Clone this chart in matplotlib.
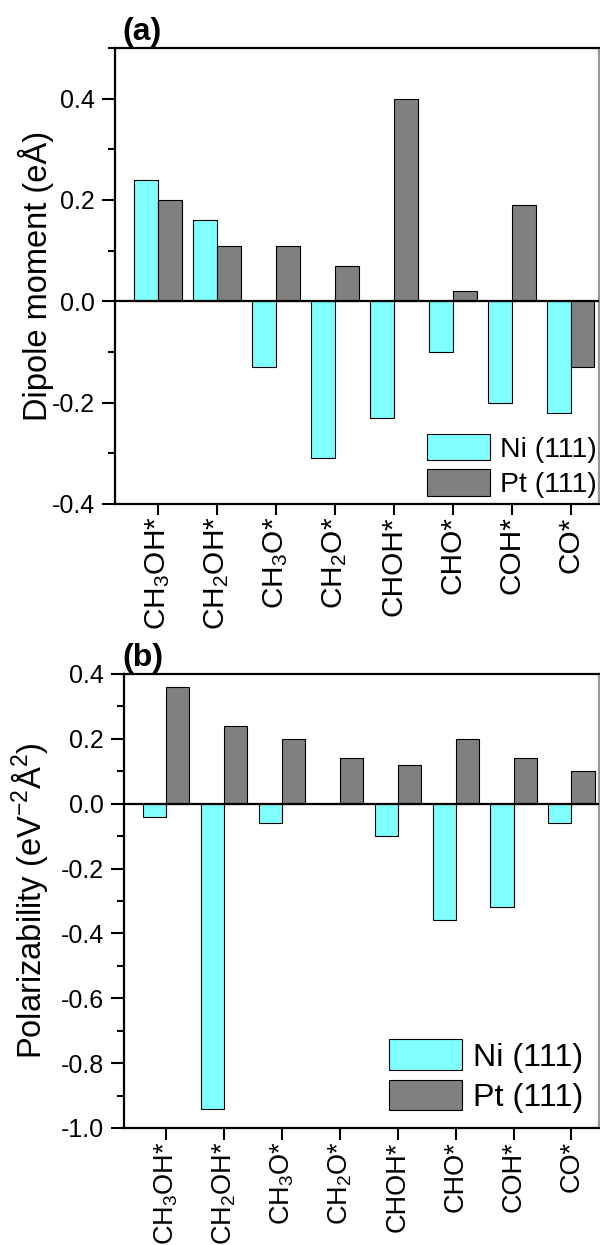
import matplotlib
matplotlib.use("Agg")
import matplotlib.pyplot as plt
import numpy as np
from matplotlib.ticker import MultipleLocator, FormatStrFormatter

plt.rcParams['font.family'] = ['Liberation Sans', 'DejaVu Sans']
plt.rcParams['mathtext.fontset'] = 'custom'
plt.rcParams['mathtext.rm'] = 'Liberation Sans'
plt.rcParams['mathtext.it'] = 'Liberation Sans:italic'
plt.rcParams['mathtext.bf'] = 'Liberation Sans:bold'
plt.rcParams['axes.unicode_minus'] = False

categories = [r'CH$_3$OH*', r'CH$_2$OH*', r'CH$_3$O*', r'CH$_2$O*',
              'CHOH*', 'CHO*', 'COH*', 'CO*']
series_names = ['Ni (111)', 'Pt (111)']
dipole_ni = [0.24, 0.16, -0.13, -0.31, -0.23, -0.10, -0.20, -0.22]
dipole_pt = [0.20, 0.11, 0.11, 0.07, 0.40, 0.02, 0.19, -0.13]
polar_ni = [-0.04, -0.94, -0.06, 0.0, -0.10, -0.36, -0.32, -0.06]
polar_pt = [0.36, 0.24, 0.20, 0.14, 0.12, 0.20, 0.14, 0.10]

ni_color = '#80FFFF'
pt_color = '#808080'

fig = plt.figure(figsize=(6.0, 12.45), dpi=100)
ax1 = fig.add_axes([0.1917, 0.5952, 0.806, 0.3663])
ax2 = fig.add_axes([0.2067, 0.0940, 0.791, 0.3647])

x = np.arange(len(categories))
w = 0.4


def style(ax, ni, pt, ylim, major, ylabel, label_x, legfs, hl, hh, anchor,
          xfs, xtl, tickfs=18):
    ax.bar(x - w / 2, ni, w, color=ni_color, edgecolor='black', linewidth=0.8,
           label=series_names[0], zorder=2)
    ax.bar(x + w / 2, pt, w, color=pt_color, edgecolor='black', linewidth=0.8,
           label=series_names[1], zorder=2)
    ax.axhline(0, color='black', lw=1.6, zorder=3)
    ax.set_xlim(-0.73, 7.47)
    ax.set_ylim(*ylim)
    ax.yaxis.set_major_locator(MultipleLocator(major))
    ax.yaxis.set_minor_locator(MultipleLocator(major / 2))
    ax.yaxis.set_major_formatter(FormatStrFormatter('%.1f'))
    ax.set_xticks(x)
    ax.set_xticklabels(categories, rotation=90, fontsize=xfs)
    ax.tick_params(axis='y', which='major', direction='out', length=9.5,
                   width=1.5, labelsize=tickfs, pad=5)
    ax.tick_params(axis='y', which='minor', direction='out', length=5,
                   width=1.5)
    ax.tick_params(axis='x', which='major', direction='out', length=xtl,
                   width=1.5, pad=1)
    for s in ax.spines.values():
        s.set_linewidth(1.6)
    ax.spines['right'].set_color('#999999')
    ax.set_ylabel(ylabel, fontsize=23.5)
    ax.yaxis.set_label_coords(label_x, 0.5)
    ax.legend(loc='lower right', bbox_to_anchor=anchor, frameon=False,
              fontsize=legfs, handlelength=hl, handleheight=hh,
              handletextpad=0.35, labelspacing=0.22, borderaxespad=0.0,
              borderpad=0.0)


style(ax1, dipole_ni, dipole_pt, (-0.4, 0.5), 0.2, 'Dipole moment (eÅ)',
      -0.126, 20.5, 2.2, 1.05, (0.996, 0.013), 21.5, 8)
style(ax2, polar_ni, polar_pt, (-1.0, 0.4), 0.2,
      r'Polarizability (eV$^{-2}$Å$^{2}$)', -0.155, 23.2, 2.25, 1.09,
      (0.968, 0.033), 19.5, 8.6)

fig.text(122 / 600, 1 - 47 / 1245, '(a)', fontsize=23, fontweight='bold',
         ha='left', va='bottom')
fig.text(122 / 600, 1 - 673 / 1245, '(b)', fontsize=23, fontweight='bold',
         ha='left', va='bottom')

fig.savefig('out.png', dpi=100)
